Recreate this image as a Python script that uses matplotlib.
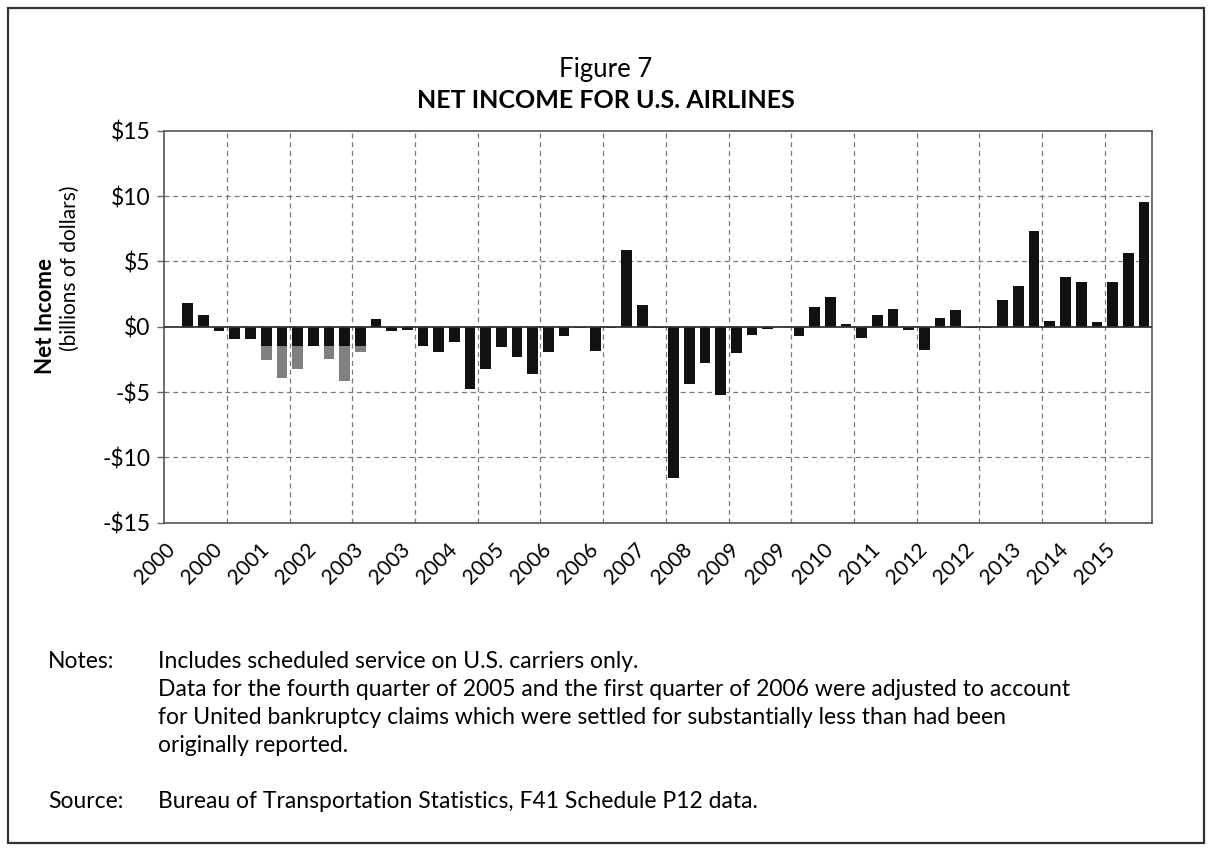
import matplotlib
matplotlib.use("Agg")
import matplotlib.pyplot as plt
from matplotlib.patches import Rectangle
import numpy as np

plt.rcParams['font.family'] = ['Lato', 'DejaVu Sans']

# Quarterly net income, 2000 Q1 .. 2015 Q3 (billions of dollars)
# black portion of each bar
net_income = [
    0.0, 1.79, 0.90, -0.36,            # 2000
    -0.92, -0.92, -1.51, -1.51,        # 2001
    -1.51, -1.51, -1.51, -1.51,        # 2002
    -1.50, 0.59, -0.36, -0.26,         # 2003
    -1.51, -1.97, -1.15, -4.73,        # 2004
    -3.25, -1.53, -2.35, -3.63,        # 2005
    -1.97, -0.74, -0.13, -1.84,        # 2006
    -0.10, 5.88, 1.66, -0.10,          # 2007
    -11.61, -4.35, -2.74, -5.22,       # 2008
    -1.99, -0.66, -0.15, -0.03,        # 2009
    -0.69, 1.48, 2.25, 0.20,           # 2010
    -0.87, 0.90, 1.38, -0.26,          # 2011
    -1.79, 0.69, 1.28, -0.10,          # 2012
    -0.10, 2.07, 3.15, 7.29,           # 2013
    0.46, 3.84, 3.45, 0.38,            # 2014
    3.45, 5.63, 9.55,                  # 2015
]
# additional loss shown in gray (stacked below the black portion)
gray_part = [0.0] * len(net_income)
gray_extra = {6: -1.05, 7: -2.38, 8: -1.76, 10: -1.00, 11: -2.68, 12: -0.42}
for k, v in gray_extra.items():
    gray_part[k] = v

tick_labels = ['2000', '2000', '2001', '2002', '2003', '2003', '2004', '2005',
               '2006', '2006', '2007', '2008', '2009', '2009', '2010', '2011',
               '2012', '2012', '2013', '2014', '2015']
y_ticks = [15, 10, 5, 0, -5, -10, -15]
y_tick_labels = ['$15', '$10', '$5', '$0', '-$5', '-$10', '-$15']

W, H = 1209, 848
fig = plt.figure(figsize=(W / 100, H / 100), dpi=100)
fig.patch.set_facecolor('white')

ax = fig.add_axes([164.3 / W, 1 - 522.7 / H, (1151.7 - 164.3) / W, (522.7 - 130.7) / H])

x = np.arange(len(net_income))
black = np.array(net_income)
gray = np.array(gray_part)
bw = 0.68
ax.bar(x, black, width=bw, color='#111111', zorder=3)
ax.bar(x, gray, width=bw, bottom=black, color='#808080', zorder=3)

ax.set_xlim(-0.5, len(net_income) - 0.5)
ax.set_ylim(-15, 15)

# gridlines
grid_kw = dict(color='#7a7a7a', linewidth=0.9, linestyle=(0, (4, 3)), zorder=1)
for yv in y_ticks:
    if yv not in (0, 15, -15):
        ax.axhline(yv, **grid_kw)
for xv in np.arange(3.5, len(net_income) - 1, 4):
    ax.axvline(xv, **grid_kw)
ax.axhline(0, color='#333333', linewidth=1.3, zorder=4)

ax.set_yticks(y_ticks)
ax.set_yticklabels(y_tick_labels, fontsize=16.5)
ax.tick_params(axis='y', length=5, width=1, color='#666666', pad=5)

tick_pos = np.arange(0, len(net_income), 3)[:len(tick_labels)]
ax.set_xticks(tick_pos)
ax.set_xticklabels(tick_labels, fontsize=15, rotation=45, ha='right',
                   va='center', rotation_mode='anchor')
ax.tick_params(axis='x', length=0, pad=17)

for s in ax.spines.values():
    s.set_color('#555555')
    s.set_linewidth(1.2)

# titles
fig.text(606 / W, 1 - 70 / H, 'Figure 7', ha='center', va='center', fontsize=18.5)
fig.text(606 / W, 1 - 100 / H, 'NET INCOME FOR U.S. AIRLINES', ha='center',
         va='center', fontsize=18, fontweight='bold')

# y label
fig.text(46 / W, 1 - 316 / H, 'Net Income', rotation=90, ha='center',
         va='center', fontsize=16, fontweight='bold')
fig.text(70 / W, 1 - 268 / H, '(billions of dollars)', rotation=90,
         ha='center', va='center', fontsize=15)

# notes
note_fs = 16.5
fig.text(48 / W, 1 - 662 / H, 'Notes:', ha='left', va='center', fontsize=note_fs)
notes = [
    'Includes scheduled service on U.S. carriers only.',
    'Data for the fourth quarter of 2005 and the first quarter of 2006 were adjusted to account',
    'for United bankruptcy claims which were settled for substantially less than had been',
    'originally reported.',
]
for i, line in enumerate(notes):
    fig.text(158 / W, 1 - (662 + 28 * i) / H, line, ha='left', va='center',
             fontsize=note_fs)
fig.text(48 / W, 1 - 802 / H, 'Source:', ha='left', va='center', fontsize=note_fs)
fig.text(158 / W, 1 - 802 / H,
         'Bureau of Transportation Statistics, F41 Schedule P12 data.',
         ha='left', va='center', fontsize=note_fs)

# outer frame
fig.add_artist(Rectangle((8 / W, 1 - 843 / H), (1204 - 8) / W, (843 - 8) / H,
                         transform=fig.transFigure, fill=False,
                         edgecolor='#333333', linewidth=1.6))

fig.savefig('out.png', dpi=100)
